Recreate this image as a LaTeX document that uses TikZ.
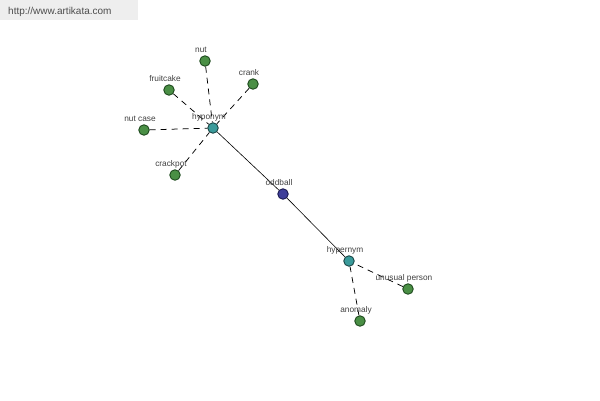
\documentclass[tikz,border=0pt]{standalone}
\usepackage{fontspec}
\setmainfont{Liberation Sans}
\usepackage{tikz}
\usetikzlibrary{calc}
\definecolor{leafgreen}{HTML}{4A8F45}
\definecolor{leafedge}{HTML}{1E4A1E}
\definecolor{hubteal}{HTML}{3A9A9A}
\definecolor{hubedge}{HTML}{1A4545}
\definecolor{rootblue}{HTML}{3F3F9A}
\definecolor{rootedge}{HTML}{1A1A50}
\definecolor{urlgray}{HTML}{EEEEEE}
\tikzset{%
  word/.style={circle, draw, line width=0.9pt, inner sep=0pt, minimum size=10.5pt},
  leaf/.style={word, fill=leafgreen, draw=leafedge},
  hub/.style={word, fill=hubteal, draw=hubedge},
  root/.style={word, fill=rootblue, draw=rootedge},
  lbl/.style={font=\fontsize{8.3}{9}\selectfont, text=black!75, inner sep=0pt,
              anchor=base},
  rel/.style={dash pattern=on 6pt off 5pt, line width=0.75pt},
  link/.style={line width=0.6pt},
}

\begin{document}
\begin{tikzpicture}[x=1pt, y=-1pt]

\useasboundingbox (0,0) rectangle (600,400);

% Draw the site banner in the top left corner
\fill[urlgray] (0,0) rectangle (138,20);
\node[font=\fontsize{10}{11}\selectfont, text=black!70, anchor=base west, inner sep=0pt] (url) at (8,14) {http://www.artikata.com};

% Draw the three main words
\node[hub] (hypo) at (213,128) {};
\node[root] (odd) at (283,194) {};
\node[hub] (hyper) at (349,261) {};

% Draw the leaves round the hyponym
\node[leaf] (nut) at (205,61) {};
\node[leaf] (fruit) at (169,90) {};
\node[leaf] (crank) at (253,84) {};
\node[leaf] (nutcase) at (144,130) {};
\node[leaf] (crack) at (175,175) {};

% Draw the leaves round the hypernym
\node[leaf] (unusual) at (408,289) {};
\node[leaf] (anom) at (360,321) {};

% Solid links through the root word
\draw[link] (hypo) -- (odd);
\draw[link] (odd) -- (hyper);

% Dashed links to the leaves
\foreach \w in {nut, fruit, crank, nutcase, crack}
  \draw[rel] (\w) -- (hypo);
\foreach \w in {unusual, anom}
  \draw[rel] (\w) -- (hyper);

% Labels sit a little above and to the left of each word
\foreach \w/\t in {hypo/hyponym, odd/oddball, hyper/hypernym, nut/nut,
                   fruit/fruitcake, crank/crank, nutcase/nut case,
                   crack/crackpot, unusual/unusual person, anom/anomaly}
  \node[lbl] (\w-l) at ([shift={(-4pt,9pt)}]\w.center) {\t};

\end{tikzpicture}
\end{document}
